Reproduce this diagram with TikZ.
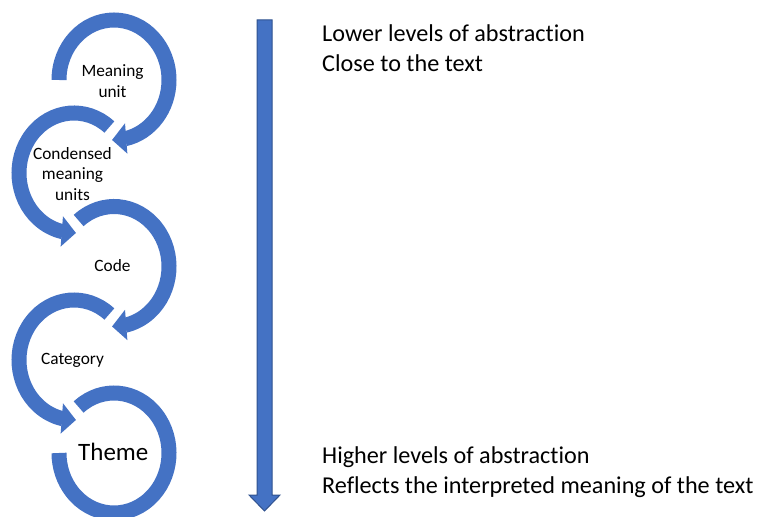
\documentclass[tikz,border=0pt]{standalone}
\usepackage{fontspec}
\setmainfont{Carlito}[Ligatures=NoCommon]
\definecolor{sablue}{HTML}{4472C4}
\definecolor{saedge}{HTML}{2F528F}
\begin{document}
\begin{tikzpicture}[x=1pt,y=1pt,
  band/.style={draw=sablue, line width=15pt},
  headfill/.style={fill=sablue},
  lbl/.style={font=\fontsize{17.3}{20.5}\selectfont, align=center, inner sep=0pt, text=black},
  biglbl/.style={font=\fontsize{25}{30}\selectfont, inner sep=0pt, text=black},
  side/.style={font=\fontsize{24.2}{30}\selectfont, inner sep=0pt, anchor=base west, text=black}]
\clip (0,0) rectangle (759,516);
\coordinate (c1) at (114,436);
\coordinate (c2) at (74,343);
\coordinate (c3) at (114,249.5);
\coordinate (c4) at (74,156);
\coordinate (c5) at (114,63);
% circle 1 (clockwise)
\draw[band] (c1) ++(180:55 and 60) arc[start angle=180, end angle=-78.5, x radius=55, y radius=60];
\fill[headfill] ([shift={(c1)}]-74:40 and 45) -- ([shift={(c1)}]-79:70 and 75) -- ([shift={(c1)}]-92:55 and 60) -- cycle;
% circle 2 (counter-clockwise)
\draw[band] (c2) ++(50:55 and 60) arc[start angle=50, end angle=258.5, x radius=55, y radius=60];
\fill[headfill] ([shift={(c2)}]254:40 and 45) -- ([shift={(c2)}]259:70 and 75) -- ([shift={(c2)}]272:55 and 60) -- cycle;
% circle 3 (clockwise)
\draw[band] (c3) ++(130:55 and 60) arc[start angle=130, end angle=-78.5, x radius=55, y radius=60];
\fill[headfill] ([shift={(c3)}]-74:40 and 45) -- ([shift={(c3)}]-79:70 and 75) -- ([shift={(c3)}]-92:55 and 60) -- cycle;
% circle 4 (counter-clockwise)
\draw[band] (c4) ++(50:55 and 60) arc[start angle=50, end angle=258.5, x radius=55, y radius=60];
\fill[headfill] ([shift={(c4)}]254:40 and 45) -- ([shift={(c4)}]259:70 and 75) -- ([shift={(c4)}]272:55 and 60) -- cycle;
% circle 5 (clockwise, no head)
\draw[band] (c5) ++(130:55 and 60) arc[start angle=130, end angle=-180, x radius=55, y radius=60];
% labels
\node[lbl] (t1) at (112.5,434.8) {Meaning\\unit};
\node[lbl] (t2) at (72.5,342) {Condensed\\meaning\\units};
\node[lbl, anchor=base] (t3) at (112.5,244.3) {Code};
\node[lbl, anchor=base] (t4) at (72.5,151) {Category};
\node[biglbl, anchor=base] (t5) at (113.3,56) {Theme};
% vertical arrow
\coordinate (vtop) at (264.5,496);
\coordinate (vtip) at (264.5,5);
\draw[draw=saedge, fill=sablue, line width=1pt]
  ([xshift=-7.5pt]vtop) -- ([xshift=7.5pt]vtop) -- ([xshift=7.5pt,yshift=16pt]vtip)
  -- ([xshift=15.5pt,yshift=16pt]vtip) -- (vtip) -- ([xshift=-15.5pt,yshift=16pt]vtip)
  -- ([xshift=-7.5pt,yshift=16pt]vtip) -- cycle;
% side texts
\node[side] (r1) at (322,474) {Lower levels of abstraction};
\node[side] (r2) at (322,444) {Close to the text};
\node[side] (r3) at (322,52.7) {Higher levels of abstraction};
\node[side] (r4) at (322,22.7) {Reflects the interpreted meaning of the text};
\end{tikzpicture}
\end{document}
